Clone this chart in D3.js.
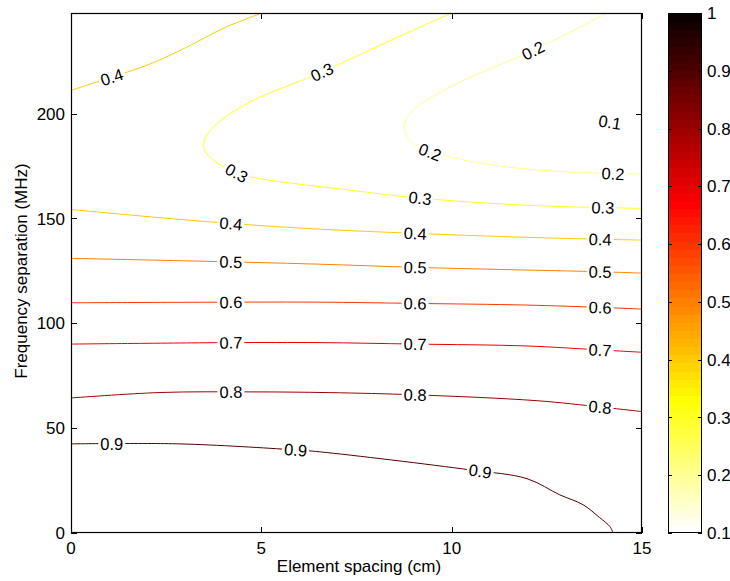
<!DOCTYPE html>
<html><head><meta charset="utf-8">
<script src="https://cdn.jsdelivr.net/npm/d3@7"></script>
<style>
body{margin:0;background:#fff}
text{font-family:"Liberation Sans",Arial,Helvetica,sans-serif;fill:#000}
</style>
</head><body>
<svg id="chart" width="730" height="581"></svg>
<script>
// ---- data (element spacing cm, frequency separation MHz) ----
const xTicks = [0, 5, 10, 15];
const yTicks = [0, 50, 100, 150, 200];
const cbTicks = [0.1, 0.2, 0.3, 0.4, 0.5, 0.6, 0.7, 0.8, 0.9, 1];
const levels = [0.1, 0.2, 0.3, 0.4, 0.4, 0.5, 0.6, 0.7, 0.8, 0.9];

const line01 = [[15,206],[14.2,202],[13.5,198.5],[13.7,196.8],[14.9,193.3],[15,193.1]];
const line02 = [[14.08,248],[12.14,230.1],[9.96,212.7],[8.9,200],[8.75,192],[9.08,184.1],[9.43,181.7],[10.83,176.2],[12.14,173.3],[14.24,171.4],[15,171.3]];
const line03 = [[10.0,248],[8.2,233.3],[6.59,219.8],[4.7,205.5],[3.83,195.2],[3.52,188],[3.5,183],[3.74,177.8],[4.35,171.7],[4.96,169.0],[7.33,163.5],[9.17,159.7],[11.98,156.3],[13.97,155.2],[15,154.8]];
const line04a = [[0,211.1],[1.07,217.4],[2.08,223.7],[3.04,231.7],[4.05,241.1],[5.02,248]];
const line04b = [[0,154.3],[2.08,150.8],[4.2,147.6],[6.54,144.9],[9.04,142.9],[11.98,141.0],[13.9,140.1],[15,139.7]];
const line05 = [[0,131.0],[4.2,129.3],[6.54,128.2],[9.04,126.7],[11.98,125.4],[13.9,124.6],[15,123.95]];
const line06 = [[0,109.8],[4.2,110.1],[6.54,110.1],[9.04,109.5],[11.98,108.7],[13.9,107.6],[15,106.8]];
const line07 = [[0,90.1],[4.2,90.8],[6.54,90.8],[9.04,90.1],[11.98,89.2],[13.9,87.3],[15,86.2]];
const line08 = [[0,64.4],[2.34,67.0],[4.7,67.3],[6.8,66.95],[9.04,65.9],[12.24,63.1],[13.9,60.1],[15,57.9]];
const line09 = [[0,42.5],[2.86,42.5],[5.83,39.7],[6.54,38.7],[10.48,30.1],[11.98,25.9],[12.84,18.2],[13.45,13.5],[13.89,7.3],[14.16,3.0],[14.24,0]];

const labels01 = [[14.16,195.9]];
const labels02 = [[12.14,230.1],[9.43,181.7],[14.24,171.4]];
const labels03 = [[6.59,219.8],[4.35,171.7],[9.17,159.7],[13.97,155.2]];
const labels04a = [[1.07,217.4]];
const labels04b = [[4.2,147.6],[9.04,142.9],[13.9,140.1]];
const labels05 = [[4.2,129.3],[9.04,126.7],[13.9,124.6]];
const labels06 = [[4.2,110.1],[9.04,109.5],[13.9,107.6]];
const labels07 = [[4.2,90.8],[9.04,90.1],[13.9,87.3]];
const labels08 = [[4.2,67.3],[9.04,65.9],[13.9,60.1]];
const labels09 = [[1.07,42.5],[5.9,39.6],[10.75,29.5]];

const lines = [line01, line02, line03, line04a, line04b, line05, line06, line07, line08, line09];
const labelSets = [labels01, labels02, labels03, labels04a, labels04b, labels05, labels06, labels07, labels08, labels09];

// ---- colormap: flipud(hot(64)), caxis [0.1 1] ----
const M = 64;
function hot(j){ // 1-based
  const n = 24;
  const r = j <= n ? j/n : 1;
  const g = j <= n ? 0 : (j <= 2*n ? (j-n)/n : 1);
  const b = j <= 2*n ? 0 : (j-2*n)/(M-2*n);
  return d3.rgb(Math.round(r*255), Math.round(g*255), Math.round(b*255)).toString();
}
const cmin = 0.1, cmax = 1;
function levelColor(v){
  let k = Math.floor((v-cmin)/(cmax-cmin)*M + 1e-9) + 1;
  k = Math.max(1, Math.min(M, k));
  return hot(M + 1 - k);
}

// ---- layout ----
const L = 71, R = 642, T = 13, B = 533;
const x = d3.scaleLinear().domain([0,15]).range([L,R]);
const y = d3.scaleLinear().domain([0,248]).range([B,T]);
const cbL = 668, cbR = 702;
const cb = d3.scaleLinear().domain([cmin,cmax]).range([B,T]);
const FS = 17, LFS = 16.5;

const svg = d3.select("#chart");
const defs = svg.append("defs");
defs.append("clipPath").attr("id","plotclip").append("rect")
  .attr("x",L).attr("y",T).attr("width",R-L).attr("height",B-T);
const mask = defs.append("mask").attr("id","labmask").attr("maskUnits","userSpaceOnUse")
  .attr("x",0).attr("y",0).attr("width",730).attr("height",581);
mask.append("rect").attr("x",0).attr("y",0).attr("width",730).attr("height",581).attr("fill","#fff");

svg.append("rect").attr("x",L).attr("y",T).attr("width",R-L).attr("height",B-T).attr("fill","#fff");

const lineGen = d3.line().x(d=>x(d[0])).y(d=>y(d[1])).curve(d3.curveCatmullRom.alpha(0.5));

const gLines = svg.append("g").attr("clip-path","url(#plotclip)")
  .append("g").attr("mask","url(#labmask)");
const gLabels = svg.append("g");

lines.forEach((pts,i)=>{
  const col = levelColor(levels[i]);
  gLines.append("path").attr("d", lineGen(pts)).attr("fill","none")
    .attr("stroke", col).attr("stroke-width", 1);
  const px = pts.map(p=>[x(p[0]), y(p[1])]);
  labelSets[i].forEach(lp=>{
    const P = [x(lp[0]), y(lp[1])];
    let best = null;
    for (let s=0; s<px.length-1; s++){
      const a = px[s], b = px[s+1];
      const dx = b[0]-a[0], dy = b[1]-a[1];
      const len2 = dx*dx+dy*dy;
      let t = len2 ? ((P[0]-a[0])*dx + (P[1]-a[1])*dy)/len2 : 0;
      t = Math.max(0, Math.min(1, t));
      const q = [a[0]+t*dx, a[1]+t*dy];
      const d = Math.hypot(P[0]-q[0], P[1]-q[1]);
      if (!best || d < best.d) best = {d, dx, dy};
    }
    let ang = Math.atan2(best.dy, best.dx)*180/Math.PI;
    if (ang > 90) ang -= 180;
    if (ang < -90) ang += 180;
    const txt = d3.format(".1f")(levels[i]);
    const t = gLabels.append("text")
      .attr("transform", `translate(${P[0]},${P[1]}) rotate(${ang})`)
      .attr("text-anchor","middle").attr("dy","0.36em")
      .attr("font-size", LFS).text(txt);
    const w = t.node().getComputedTextLength();
    mask.append("rect")
      .attr("transform", `translate(${P[0]},${P[1]}) rotate(${ang})`)
      .attr("x", -w/2-2).attr("y", -8).attr("width", w+4).attr("height", 16)
      .attr("fill","#000");
  });
});

// ---- frame and ticks ----
const tl = 6;
const gAx = svg.append("g");
gAx.append("rect").attr("x",L+0.5).attr("y",T+0.5).attr("width",R-L-1).attr("height",B-T-1)
  .attr("fill","none").attr("stroke","#000").attr("stroke-width",1.2);
xTicks.forEach(v=>{
  const xx = Math.round(x(v))+0.5;
  gAx.append("line").attr("x1",xx).attr("x2",xx).attr("y1",B).attr("y2",B-tl).attr("stroke","#000");
  gAx.append("line").attr("x1",xx).attr("x2",xx).attr("y1",T).attr("y2",T+tl).attr("stroke","#000");
  gAx.append("text").attr("x",x(v)).attr("y",554).attr("text-anchor","middle")
    .attr("font-size",FS).text(v);
});
yTicks.forEach(v=>{
  const yy = Math.round(y(v))+0.5;
  gAx.append("line").attr("x1",L).attr("x2",L+tl).attr("y1",yy).attr("y2",yy).attr("stroke","#000");
  gAx.append("line").attr("x1",R).attr("x2",R-tl).attr("y1",yy).attr("y2",yy).attr("stroke","#000");
  gAx.append("text").attr("x",65).attr("y",y(v)).attr("dy","0.36em").attr("text-anchor","end")
    .attr("font-size",FS).text(v);
});
gAx.append("text").attr("x",359).attr("y",572).attr("text-anchor","middle")
  .attr("font-size",FS).text("Element spacing (cm)");
gAx.append("text").attr("transform","translate(27,271) rotate(-90)").attr("text-anchor","middle")
  .attr("font-size",FS).text("Frequency separation (MHz)");

// ---- colorbar ----
const gCb = svg.append("g").attr("shape-rendering","crispEdges");
const step = (cmax-cmin)/M;
d3.range(M).forEach(i=>{
  const v0 = cmin + i*step, v1 = cmin + (i+1)*step;
  gCb.append("rect").attr("x",cbL).attr("y",cb(v1)).attr("width",cbR-cbL)
    .attr("height",cb(v0)-cb(v1)+1).attr("fill",hot(M-i));
});
gCb.append("rect").attr("x",cbL+0.5).attr("y",T+0.5).attr("width",cbR-cbL-1).attr("height",B-T-1)
  .attr("fill","none").attr("stroke","#000");
cbTicks.forEach(v=>{
  const yy = Math.round(cb(v))+0.5;
  gCb.append("line").attr("x1",cbL).attr("x2",cbL+4).attr("y1",yy).attr("y2",yy).attr("stroke","#000");
  gCb.append("line").attr("x1",cbR).attr("x2",cbR-4).attr("y1",yy).attr("y2",yy).attr("stroke","#000");
});
cbTicks.forEach(v=>{
  svg.append("text").attr("x",707).attr("y",cb(v)).attr("dy","0.36em")
    .attr("font-size",FS).text(d3.format("~g")(v));
});
</script>
</body></html>
